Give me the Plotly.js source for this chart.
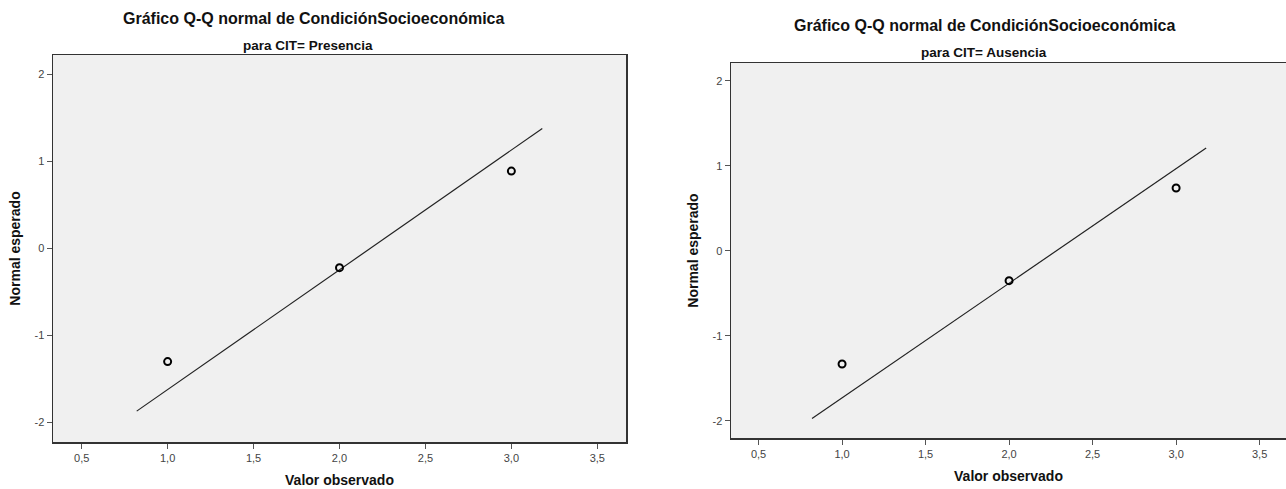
<!DOCTYPE html>
<html>
<head>
<meta charset="utf-8">
<script src="https://cdn.plot.ly/plotly-3.0.1.min.js"></script>
<style>html,body{margin:0;padding:0;background:#fff;overflow:hidden}#chart{width:1286px;height:489px}</style>
</head>
<body>
<div id="chart"></div>
<script>
// Data
const mainTitle = "Gráfico Q-Q normal de CondiciónSocioeconómica";
const subtitles = ["para CIT= Presencia", "para CIT= Ausencia"];
const xTitle = "Valor observado";
const yTitle = "Normal esperado";

const obsPresencia = [1, 2, 3];
const expPresencia = [-1.30, -0.22, 0.89];
const lineXPresencia = [0.82, 3.18];
const lineYPresencia = [-1.87, 1.38];

const obsAusencia = [1, 2, 3];
const expAusencia = [-1.33, -0.35, 0.74];
const lineXAusencia = [0.82, 3.18];
const lineYAusencia = [-1.97, 1.21];

const xTickVals = [0.5, 1.0, 1.5, 2.0, 2.5, 3.0, 3.5];
const xTickText = ["0,5", "1,0", "1,5", "2,0", "2,5", "3,0", "3,5"];
const yTickVals = [-2, -1, 0, 1, 2];
const yTickText = ["-2", "-1", "0", "1", "2"];

const W = 1286, H = 489;
const FONT = "Liberation Sans, Arial, sans-serif";

function lineTrace(x, y, xa, ya) {
  return {x: x, y: y, xaxis: xa, yaxis: ya, type: "scatter", mode: "lines",
    line: {color: "#222", width: 1.2}, hoverinfo: "skip", showlegend: false};
}
function ptTrace(x, y, xa, ya) {
  return {x: x, y: y, xaxis: xa, yaxis: ya, type: "scatter", mode: "markers",
    marker: {symbol: "circle-open", size: 7, color: "#000", line: {width: 2, color: "#000"}},
    showlegend: false};
}

const data = [
  lineTrace(lineXPresencia, lineYPresencia, "x", "y"),
  ptTrace(obsPresencia, expPresencia, "x", "y"),
  lineTrace(lineXAusencia, lineYAusencia, "x2", "y2"),
  ptTrace(obsAusencia, expAusencia, "x2", "y2")
];

function xAxis(domain, range, anchor) {
  return {domain: domain, range: range, anchor: anchor,
    tickvals: xTickVals, ticktext: xTickText,
    ticks: "outside", ticklen: 5, tickcolor: "#555", tickwidth: 1,
    tickfont: {family: FONT, size: 11, color: "#444"},
    showgrid: false, zeroline: false,
    showline: true, linecolor: "#333", linewidth: 1.5, mirror: true,
    title: {text: xTitle, font: {family: FONT, size: 14, color: "#111", weight: "bold"}, standoff: 12}};
}
function yAxis(domain, range, anchor) {
  return {domain: domain, range: range, anchor: anchor,
    tickvals: yTickVals, ticktext: yTickText,
    ticks: "outside", ticklen: 5, tickcolor: "#555", tickwidth: 1,
    tickfont: {family: FONT, size: 11, color: "#444"},
    showgrid: false, zeroline: false,
    showline: true, linecolor: "#333", linewidth: 1.5, mirror: true,
    title: {text: yTitle, font: {family: FONT, size: 14, color: "#111", weight: "bold"}, standoff: 10}};
}

function ann(text, xpx, ypx, size) {
  return {text: text, xref: "paper", yref: "paper", x: xpx / W, y: 1 - ypx / H,
    xanchor: "center", yanchor: "middle", showarrow: false,
    font: {family: FONT, size: size, color: "#111", weight: "bold"}};
}

const layout = {
  width: W, height: H,
  margin: {l: 0, r: 0, t: 0, b: 0},
  paper_bgcolor: "#fff",
  plot_bgcolor: "#f0f0f0",
  showlegend: false,
  xaxis: xAxis([53 / W, 626 / W], [0.333, 3.667], "y"),
  yaxis: yAxis([47 / H, 434 / H], [-2.225, 2.225], "x"),
  xaxis2: xAxis([731 / W, 1], [0.335, 3.658], "y2"),
  yaxis2: yAxis([51 / H, 426 / H], [-2.2, 2.21], "x2"),
  annotations: [
    ann(mainTitle, 313, 18, 16),
    ann(subtitles[0], 308, 45, 13.5),
    ann(mainTitle, 984, 25, 16),
    ann(subtitles[1], 984, 53, 13.5)
  ]
};

Plotly.newPlot("chart", data, layout, {displayModeBar: false, staticPlot: true});
</script>
</body>
</html>
